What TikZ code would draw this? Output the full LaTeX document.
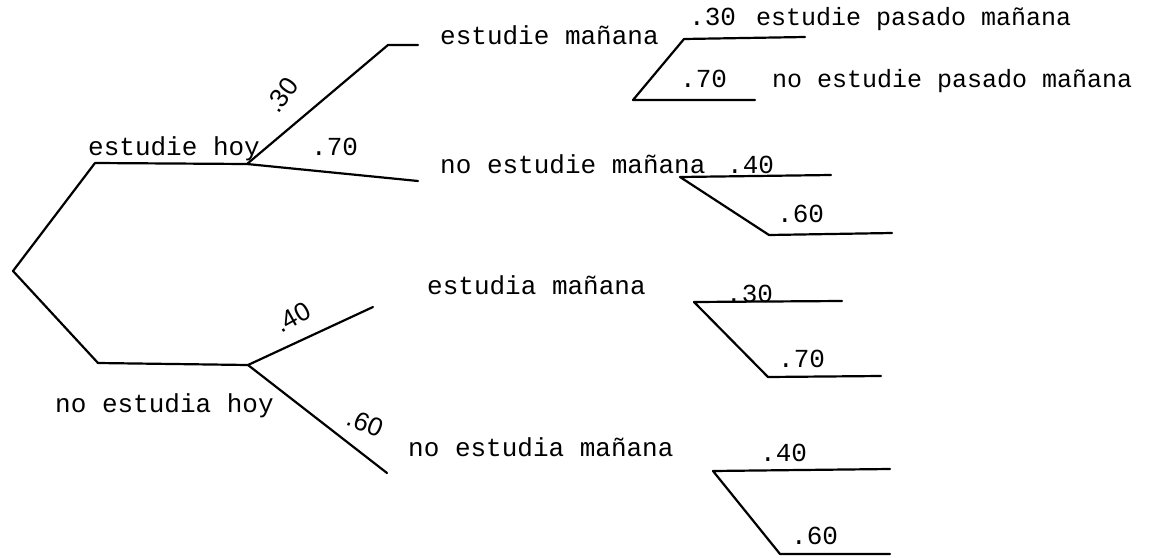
\documentclass[tikz,border=0pt]{standalone}
\usepackage{fontspec}
\setmainfont{Liberation Mono}
\newfontfamily\hand{Liberation Sans}
\begin{document}
\begin{tikzpicture}[x=1pt,y=-1pt,
  branch/.style={line width=2.2pt, line cap=round, line join=round},
  lbl/.style={anchor=base west, inner sep=0pt, font=\fontsize{26}{30}\selectfont},
  lblsm/.style={anchor=base west, inner sep=0pt, font=\fontsize{25}{30}\selectfont},
  hw/.style={inner sep=0pt, font=\hand\fontsize{26}{30}\selectfont}]
\useasboundingbox (0,0) rectangle (1170,557);
% first level
\coordinate (r) at (13,271);
\coordinate (a1) at (95,163);
\coordinate (a) at (247,164);
\coordinate (ak) at (388,45);
\coordinate (ae) at (418,45);
\coordinate (an) at (418,181);
\coordinate (b1) at (98,363);
\coordinate (b) at (248,365);
\coordinate (be) at (373,307);
\coordinate (bn) at (387,473);
\draw[branch] (r) -- (a1) -- (a) -- (ak) -- (ae);
\draw[branch] (a) -- (an);
\draw[branch] (r) -- (b1) -- (b) -- (be);
\draw[branch] (b) -- (bn);
\node[lbl] (t1) at (88,155) {estudie hoy};
\node[lbl] (t2) at (311,155) {.70};
\node[hw, rotate=54] (t3) at (282,95) {.30};
\node[lbl] (t4) at (55,412) {no estudia hoy};
\node[hw, rotate=29] (t5) at (293,317) {.40};
\node[hw, rotate=-22] (t6) at (365,423) {.60};
\node[lbl] (t7) at (440,44) {estudie mañana};
\node[lbl] (t8) at (440,173) {no estudie mañana};
\node[lbl] (t9) at (427,294) {estudia mañana};
\node[lbl] (t10) at (408,456) {no estudia mañana};
% second level, group 1
\coordinate (g1) at (633,100);
\coordinate (g1u) at (684,39);
\coordinate (g1ue) at (805,37);
\coordinate (g1d) at (755,100);
\draw[branch] (g1d) -- (g1) -- (g1u) -- (g1ue);
\node[lbl] (u1) at (689,25) {.30};
\node[lblsm] (u2) at (756,25) {estudie pasado mañana};
\node[lbl] (u3) at (680,87) {.70};
\node[lblsm] (u4) at (772,87) {no estudie pasado mañana};
% group 2
\coordinate (g2) at (680,177);
\coordinate (g2e) at (831,175);
\coordinate (g2d) at (769,235);
\coordinate (g2de) at (892,233);
\draw[branch] (g2e) -- (g2) -- (g2d) -- (g2de);
\node[lbl] (u5) at (727,173) {.40};
\node[lbl] (u6) at (777,222) {.60};
% group 3
\coordinate (g3) at (694,302);
\coordinate (g3e) at (842,301);
\coordinate (g3d) at (768,377);
\coordinate (g3de) at (881,376);
\draw[branch] (g3e) -- (g3) -- (g3d) -- (g3de);
\node[lbl] (u7) at (726,302) {.30};
\node[lbl] (u8) at (778,367) {.70};
% group 4
\coordinate (g4) at (713,471);
\coordinate (g4e) at (890,469);
\coordinate (g4d) at (780,554);
\coordinate (g4de) at (890,554);
\draw[branch] (g4e) -- (g4) -- (g4d) -- (g4de);
\node[lbl] (u9) at (760,461) {.40};
\node[lbl] (u10) at (791,544) {.60};
\end{tikzpicture}
\end{document}
